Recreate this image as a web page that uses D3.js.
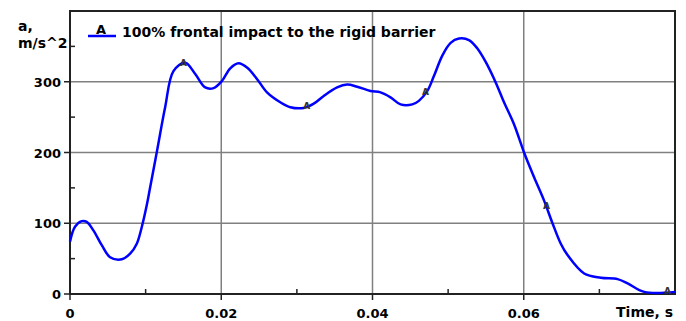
<!DOCTYPE html>
<html lang="en">
<head>
  <meta charset="UTF-8">
  <title>Frontal impact</title>
  <script src="https://cdn.jsdelivr.net/npm/d3@7/dist/d3.min.js"></script>
  <style>
    body { margin: 0; background: #fff; }
    text { font-family: "DejaVu Sans", Verdana, sans-serif; font-weight: bold; }
  </style>
</head>
<body>
  <svg></svg>
  <script>
    // time, s
    const times = [0, 0.00066, 0.00155, 0.00221, 0.00309, 0.0042, 0.0053, 0.00685, 0.00795, 0.00883,
      0.0095, 0.01016, 0.0106, 0.01152, 0.01258, 0.01368, 0.01523, 0.01656, 0.01788, 0.01898,
      0.02009, 0.02119, 0.02229, 0.0234, 0.02472, 0.02605, 0.02781, 0.02914, 0.0309, 0.03223,
      0.03355, 0.03532, 0.03665, 0.03797, 0.03974, 0.04106, 0.04238, 0.04371, 0.04526, 0.04613,
      0.04725, 0.04812, 0.04923, 0.05033, 0.05143, 0.05275, 0.05387, 0.05497, 0.05629, 0.05739,
      0.05871, 0.06004, 0.06137, 0.06269, 0.0638, 0.0649, 0.06579, 0.06799, 0.0702, 0.07241,
      0.07374, 0.07593, 0.08];
    // acceleration, m/s^2
    const accel = [74, 95, 103, 102, 90, 69, 52, 49, 57, 71,
      95, 126, 151, 203, 264, 315, 327, 311, 292, 291,
      301, 319, 326, 320, 304, 285, 271, 264, 263, 269,
      280, 292, 296, 293, 287, 285, 278, 268, 268, 273,
      287, 308, 337, 355, 361, 359, 347, 328, 299, 271,
      240, 200, 165, 132, 100, 71, 55, 29, 23, 21,
      15, 3, 3];
    const markerTimes = [0.015, 0.0313, 0.047, 0.063, 0.079];
    const xTicks = [0, 0.02, 0.04, 0.06];
    const xMinor = [0.01, 0.03, 0.05, 0.07];
    const yTicks = [0, 100, 200, 300];
    const yMinor = [50, 150, 250, 350];
    const seriesName = "100% frontal impact to the rigid barrier";

    const width = 686, height = 321;
    const margin = { left: 70, top: 11, right: 11, bottom: 27 };

    const svg = d3.select("svg").attr("width", width).attr("height", height);

    const x = d3.scaleLinear().domain([0, 0.08]).range([margin.left, width - margin.right]);
    const y = d3.scaleLinear().domain([0, 400]).range([height - margin.bottom, margin.top]);

    const data = times.map((t, i) => ({ t, a: accel[i] }));

    // grid
    svg.append("g").selectAll("line").data(yTicks.slice(1)).join("line")
      .attr("x1", x(0)).attr("x2", x(0.08))
      .attr("y1", d => y(d)).attr("y2", d => y(d))
      .attr("stroke", "#808080").attr("stroke-width", 1.5);
    svg.append("g").selectAll("line").data(xTicks.slice(1)).join("line")
      .attr("x1", d => x(d)).attr("x2", d => x(d))
      .attr("y1", y(0)).attr("y2", y(400))
      .attr("stroke", "#808080").attr("stroke-width", 1.5);

    // frame
    svg.append("rect")
      .attr("x", x(0)).attr("y", y(400))
      .attr("width", x(0.08) - x(0)).attr("height", y(0) - y(400))
      .attr("fill", "none").attr("stroke", "#222").attr("stroke-width", 2);

    // ticks
    const tk = svg.append("g").attr("stroke", "#222").attr("stroke-width", 1.5);
    tk.selectAll(".xmaj").data(xTicks).join("line")
      .attr("x1", d => x(d)).attr("x2", d => x(d))
      .attr("y1", y(0)).attr("y2", y(0) + 6);
    tk.selectAll(".xmin").data(xMinor).join("line")
      .attr("x1", d => x(d)).attr("x2", d => x(d))
      .attr("y1", y(0)).attr("y2", y(0) - 5);
    tk.selectAll(".ymaj").data(yTicks).join("line")
      .attr("x1", x(0) - 6).attr("x2", x(0))
      .attr("y1", d => y(d)).attr("y2", d => y(d));
    tk.selectAll(".ymin").data(yMinor).join("line")
      .attr("x1", x(0)).attr("x2", x(0) + 5)
      .attr("y1", d => y(d)).attr("y2", d => y(d));

    // tick labels
    svg.append("g").selectAll("text").data(xTicks).join("text")
      .attr("x", d => x(d)).attr("y", 318)
      .attr("text-anchor", "middle").attr("font-size", 13)
      .text(d => d === 0 ? "0" : d3.format(".2f")(d));
    svg.append("g").selectAll("text").data(yTicks).join("text")
      .attr("x", x(0) - 9).attr("y", d => y(d) + 5)
      .attr("text-anchor", "end").attr("font-size", 13)
      .text(d => d);

    // axis titles
    svg.append("text").attr("x", 18).attr("y", 31).attr("font-size", 14).text("a,");
    svg.append("text").attr("x", 18).attr("y", 48).attr("font-size", 14).text("m/s^2");
    svg.append("text").attr("x", 673).attr("y", 317).attr("text-anchor", "end")
      .attr("font-size", 14).text("Time, s");

    // curve
    const line = d3.line().x(d => x(d.t)).y(d => y(d.a)).curve(d3.curveCatmullRom);
    svg.append("path").datum(data)
      .attr("d", line)
      .attr("fill", "none").attr("stroke", "#0000ff").attr("stroke-width", 2.5);

    // markers "A" along the curve
    const interp = t => {
      const i = d3.bisector(d => d.t).right(data, t);
      const p0 = data[Math.max(0, i - 1)], p1 = data[Math.min(data.length - 1, i)];
      if (p1.t === p0.t) return p0.a;
      return p0.a + (p1.a - p0.a) * (t - p0.t) / (p1.t - p0.t);
    };
    svg.append("g").selectAll("text").data(markerTimes).join("text")
      .attr("x", d => x(d)).attr("y", d => y(interp(d)) + 2)
      .attr("text-anchor", "middle").attr("font-size", 9)
      .attr("font-weight", "normal").attr("fill", "#333")
      .text("A");

    // legend
    const lg = svg.append("g");
    lg.append("line").attr("x1", 88).attr("x2", 116).attr("y1", 36).attr("y2", 36)
      .attr("stroke", "#0000ff").attr("stroke-width", 2.5);
    lg.append("text").attr("x", 101).attr("y", 34).attr("text-anchor", "middle")
      .attr("font-size", 13).text("A");
    lg.append("text").attr("x", 122).attr("y", 37).attr("font-size", 14).text(seriesName);
  </script>
</body>
</html>
